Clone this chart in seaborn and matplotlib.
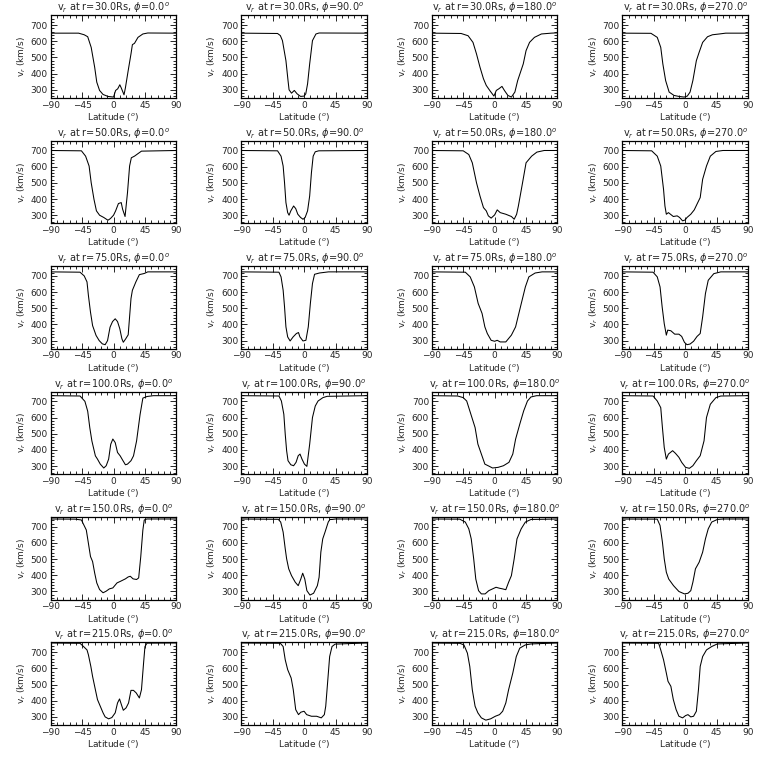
import matplotlib
matplotlib.use("Agg")
import matplotlib.pyplot as plt
import seaborn as sns
from matplotlib.ticker import MultipleLocator

# radial velocity vs latitude
radii = [30, 50, 75, 100, 150, 215]
phis = [0, 90, 180, 270]

# r = 30 Rs
lat_r30_p0 = [-90, -50, -42, -37, -32, -27, -24, -20, -15, -8, 0, 3, 6, 9, 11, 15, 17, 21, 25, 27, 30, 35, 42, 49, 90]
v_r30_p0 = [650, 650, 640, 628, 562, 439, 347, 296, 271, 259, 255, 296, 306, 331, 312, 269, 312, 419, 522, 579, 587, 624, 645, 651, 650]
lat_r30_p90 = [-90, -38, -34, -31, -26, -23, -21.5, -18, -14, -10, -5, 0, 2.4, 5, 8, 12, 17, 21.5, 90]
v_r30_p90 = [650, 648, 635, 604, 480, 357, 300, 279, 296, 275, 259, 261, 275, 337, 460, 604, 645, 651, 650]
lat_r30_p180 = [-90, -48, -38, -31, -26, -21, -16, -12, -7, -1, 2.4, 6, 10.5, 14, 19, 24, 29, 33, 41, 45, 50, 57, 67, 81, 90]
v_r30_p180 = [650, 648, 634, 593, 522, 440, 368, 327, 296, 261, 296, 306, 321, 296, 265, 255, 286, 357, 460, 542, 593, 624, 645, 650, 652]
lat_r30_p270 = [-90, -49, -40, -35, -32, -28, -23, -16, -9, -1.5, 3, 7, 11, 16, 20, 25, 32, 39, 49, 58, 90]
v_r30_p270 = [650, 649, 624, 562, 460, 357, 286, 265, 259, 255, 261, 286, 357, 480, 532, 593, 628, 640, 645, 650, 650]

# r = 50 Rs
lat_r50_p0 = [-90, -46, -40, -35, -32, -28, -24.5, -20, -14, -8, -4.5, 0, 3, 7, 11, 13, 16.5, 20, 23, 25.5, 30, 40, 90]
v_r50_p0 = [700, 698, 665, 604, 501, 398, 327, 300, 286, 269, 279, 300, 327, 372, 378, 337, 292, 440, 604, 655, 665, 696, 700]
lat_r50_p90 = [-90, -38, -33, -30, -28, -26, -23.5, -21.5, -19, -15, -12, -9, -5, -1.5, 1.5, 5, 8, 10.5, 13, 16, 21, 90]
v_r50_p90 = [700, 698, 665, 604, 501, 378, 316, 300, 327, 357, 341, 306, 286, 275, 286, 327, 419, 562, 665, 692, 698, 700]
lat_r50_p180 = [-90, -45, -37, -32, -26, -21, -16, -12, -9, -5, 0, 3.7, 8, 16, 24, 28, 31.5, 34, 40, 45, 53, 60.5, 71, 90]
v_r50_p180 = [700, 698, 675, 624, 501, 419, 347, 327, 296, 282, 302, 333, 316, 306, 292, 275, 306, 357, 501, 624, 665, 690, 700, 700]
lat_r50_p270 = [-90, -48, -40, -35, -31, -29, -27, -24, -17, -11.5, -8, -3.7, 0, 2.6, 8, 13, 18, 21.5, 25, 30.5, 36, 44, 54, 90]
v_r50_p270 = [700, 698, 665, 604, 460, 357, 306, 316, 292, 296, 286, 265, 271, 286, 306, 333, 378, 409, 522, 604, 665, 694, 700, 700]

# r = 75 Rs
lat_r75_p0 = [-90, -48, -42, -38, -36, -33, -30, -25, -20.5, -16, -12, -8.6, -5, -1.4, 2.4, 5.7, 9, 12, 14, 17.4, 21, 25, 27, 32, 37, 44, 49, 90]
v_r75_p0 = [725, 723, 700, 663, 580, 476, 393, 332, 300, 280, 275, 300, 383, 418, 435, 418, 373, 311, 290, 311, 336, 560, 611, 663, 708, 715, 725, 725]
lat_r75_p90 = [-90, -36, -33, -30, -28, -26, -23.5, -20, -15.7, -11, -8, -6, -1.6, 2.6, 6, 9, 12, 15, 22, 35, 90]
v_r75_p90 = [725, 723, 694, 612, 509, 385, 323, 298, 323, 344, 350, 323, 298, 302, 385, 530, 653, 710, 718, 725, 725]
lat_r75_p180 = [-90, -42, -35, -29, -23.6, -18, -14, -10.5, -5, 0, 3.7, 8, 16, 24, 30, 37, 44, 49, 58, 68, 90]
v_r75_p180 = [725, 723, 694, 632, 530, 468, 385, 344, 302, 296, 302, 292, 292, 334, 385, 509, 632, 694, 718, 725, 725]
lat_r75_p270 = [-90, -46, -40, -36, -33, -30, -27, -25, -20.5, -15, -9, -5, -1, 2.6, 7, 12, 17, 21.5, 25, 29, 33, 41, 51, 90]
v_r75_p270 = [725, 723, 694, 632, 509, 405, 334, 365, 361, 340, 340, 326, 289, 275, 279, 296, 326, 344, 447, 591, 673, 714, 725, 725]

# r = 100 Rs
lat_r100_p0 = [-90, -48, -41, -37, -34, -31, -26, -23, -19, -14, -10.5, -7, -4, -1, 2.4, 5.7, 9.5, 13, 17, 20, 25, 28.6, 33, 38, 42, 48, 57, 90]
v_r100_p0 = [735, 733, 700, 639, 537, 455, 363, 343, 312, 288, 302, 343, 435, 467, 445, 384, 363, 337, 308, 312, 333, 363, 455, 618, 720, 730, 735, 735]
lat_r100_p90 = [-90, -36, -32.5, -29, -27, -25, -23, -19, -15, -11.5, -8.4, -5.8, -3, 0.5, 4, 8, 12, 16, 20, 27, 33, 90]
v_r100_p90 = [735, 733, 702, 620, 497, 395, 333, 308, 302, 323, 364, 374, 343, 312, 298, 435, 600, 671, 702, 723, 731, 735]
lat_r100_p180 = [-90, -53, -45, -40, -34, -28, -24, -19, -14, -8.4, -3, 5, 12.6, 20.5, 26, 30, 36, 41.6, 47, 52, 60, 90]
v_r100_p180 = [735, 733, 723, 702, 620, 538, 436, 374, 312, 300, 288, 292, 302, 323, 374, 466, 559, 641, 702, 727, 735, 735]
lat_r100_p270 = [-90, -46, -40, -35, -32.6, -30, -27, -24, -18, -14, -9, -5, 0.5, 6, 11, 16, 21.5, 27, 30.5, 36, 44, 51, 90]
v_r100_p270 = [735, 733, 702, 661, 538, 415, 343, 374, 395, 379, 354, 323, 292, 286, 302, 333, 364, 456, 600, 682, 723, 733, 735]

# r = 150 Rs
lat_r150_p0 = [-90, -55, -46, -39, -36, -33, -30, -27, -24, -20, -15, -10.5, -6, -1, 5, 10, 17, 21, 24, 28, 33, 36, 39, 42, 44, 47.7, 90]
v_r150_p0 = [748, 747, 742, 680, 598, 516, 485, 414, 353, 312, 292, 302, 316, 322, 353, 363, 378, 390, 394, 378, 374, 384, 516, 680, 742, 748, 748]
lat_r150_p90 = [-90, -37, -33.5, -30, -27, -25, -22, -18, -12.6, -8.4, -4.7, -2, 1, 4, 8.4, 13.6, 19, 21.5, 24, 26.7, 30, 34.6, 37, 40, 45, 90]
v_r150_p90 = [748, 746, 729, 667, 564, 502, 440, 398, 357, 336, 377, 413, 377, 305, 278, 289, 336, 388, 543, 625, 667, 729, 745, 745, 748, 748]
lat_r150_p180 = [-90, -50, -42, -37, -33.5, -30, -27, -23, -19, -13.6, -8.4, -3, 2, 7, 11.5, 16, 20, 24, 28, 32, 38, 44, 52, 90]
v_r150_p180 = [748, 747, 729, 687, 625, 502, 377, 305, 285, 285, 305, 316, 326, 320, 316, 311, 357, 398, 502, 625, 687, 729, 745, 748]
lat_r150_p270 = [-90, -40, -36, -32.6, -30, -27, -23.6, -16.7, -9, -1, 4, 8, 11, 14.7, 20, 25, 29, 33, 38, 46, 54, 90]
v_r150_p270 = [748, 747, 708, 605, 502, 419, 377, 336, 300, 285, 289, 305, 357, 440, 481, 543, 625, 687, 729, 745, 748, 748]

# r = 215 Rs
lat_r215_p0 = [-90, -48, -43, -38, -36, -32.5, -30, -26, -23, -19, -15, -12, -7, -2.4, 2.4, 5.7, 8.6, 12, 14, 18, 21.5, 25, 28.6, 32.5, 37, 40, 43, 45, 48, 90]
v_r215_p0 = [757, 755, 735, 714, 684, 612, 550, 468, 407, 366, 325, 300, 288, 296, 325, 386, 411, 366, 341, 356, 386, 464, 464, 448, 417, 468, 632, 735, 756, 757]
lat_r215_p90 = [-90, -34, -30, -27, -23.5, -18.5, -15.5, -12, -8, -4.7, 0, 3.7, 10.5, 18, 24.6, 29, 31, 34, 36.6, 40, 44.5, 90]
v_r215_p90 = [757, 755, 735, 653, 592, 540, 468, 345, 314, 329, 335, 314, 304, 304, 294, 314, 366, 530, 673, 735, 750, 757]
lat_r215_p180 = [-90, -50, -44, -39, -35.6, -32, -28, -24, -19, -12.6, -5.8, 1, 7, 11.5, 16, 20, 26, 31, 36, 44, 52, 90]
v_r215_p180 = [757, 755, 745, 694, 612, 468, 366, 325, 294, 280, 288, 304, 314, 335, 386, 468, 571, 673, 725, 745, 751, 757]
lat_r215_p270 = [-90, -38, -35, -31, -27, -24.6, -20.5, -17, -13, -9, -3.7, 0.5, 4, 8, 12, 16, 19, 21.5, 25, 30.5, 38, 46, 90]
v_r215_p270 = [757, 755, 714, 653, 571, 520, 489, 407, 345, 304, 294, 308, 314, 300, 304, 335, 468, 612, 673, 714, 735, 751, 757]

curves = {
    (30, 0): (lat_r30_p0, v_r30_p0), (30, 90): (lat_r30_p90, v_r30_p90),
    (30, 180): (lat_r30_p180, v_r30_p180), (30, 270): (lat_r30_p270, v_r30_p270),
    (50, 0): (lat_r50_p0, v_r50_p0), (50, 90): (lat_r50_p90, v_r50_p90),
    (50, 180): (lat_r50_p180, v_r50_p180), (50, 270): (lat_r50_p270, v_r50_p270),
    (75, 0): (lat_r75_p0, v_r75_p0), (75, 90): (lat_r75_p90, v_r75_p90),
    (75, 180): (lat_r75_p180, v_r75_p180), (75, 270): (lat_r75_p270, v_r75_p270),
    (100, 0): (lat_r100_p0, v_r100_p0), (100, 90): (lat_r100_p90, v_r100_p90),
    (100, 180): (lat_r100_p180, v_r100_p180), (100, 270): (lat_r100_p270, v_r100_p270),
    (150, 0): (lat_r150_p0, v_r150_p0), (150, 90): (lat_r150_p90, v_r150_p90),
    (150, 180): (lat_r150_p180, v_r150_p180), (150, 270): (lat_r150_p270, v_r150_p270),
    (215, 0): (lat_r215_p0, v_r215_p0), (215, 90): (lat_r215_p90, v_r215_p90),
    (215, 180): (lat_r215_p180, v_r215_p180), (215, 270): (lat_r215_p270, v_r215_p270),
}

sns.set_style("ticks")
plt.rcParams['font.family'] = ['DejaVu Sans']
plt.rcParams['mathtext.fontset'] = 'dejavusans'

fig, axes = plt.subplots(6, 4, figsize=(7.68, 7.68), dpi=100)
fig.subplots_adjust(left=0.066, right=0.974, top=0.980, bottom=0.056,
                    wspace=0.516, hspace=0.52)

for i, r in enumerate(radii):
    for j, phi in enumerate(phis):
        ax = axes[i, j]
        lat, v = curves[(r, phi)]
        sns.lineplot(x=lat, y=v, ax=ax, color="black", linewidth=0.75,
                     estimator=None, sort=False)
        ax.set_xlim(-90, 90)
        ax.set_ylim(250, 760)
        ax.xaxis.set_major_locator(MultipleLocator(45))
        ax.xaxis.set_minor_locator(MultipleLocator(9))
        ax.yaxis.set_major_locator(MultipleLocator(100))
        ax.yaxis.set_minor_locator(MultipleLocator(20))
        ax.tick_params(which="both", direction="in", top=True, right=True,
                       labelsize=6.5, pad=2, width=0.7)
        ax.tick_params(which="major", length=4)
        ax.tick_params(which="minor", length=2)
        for s in ax.spines.values():
            s.set_visible(True)
            s.set_linewidth(0.9)
            s.set_color("black")
        ax.set_title(r"v$_r$ at r=%.1fRs, $\phi$=%.1f$^o$" % (r, phi),
                     fontsize=7, pad=2)
        ax.set_xlabel("Latitude ($^o$)", fontsize=6.5, labelpad=1)
        ax.set_ylabel("v$_r$ (km/s)", fontsize=6.5, labelpad=2)

fig.savefig("out.png", dpi=100, facecolor="white")
